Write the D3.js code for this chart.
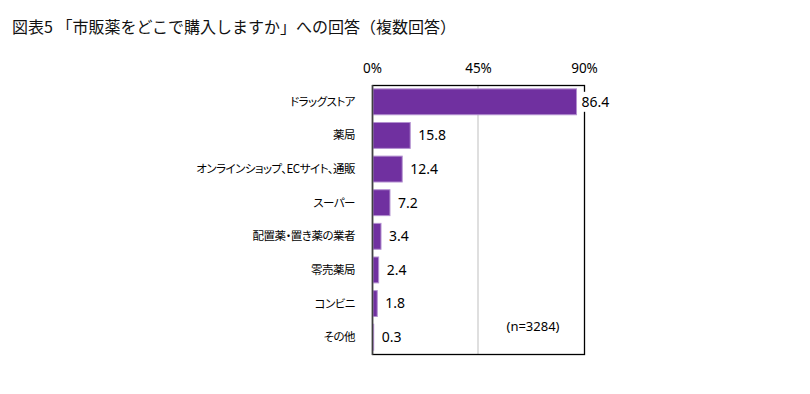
<!DOCTYPE html>
<html>
<head>
<meta charset="utf-8">
<script src="https://cdn.jsdelivr.net/npm/d3@7"></script>
<style>
  body { margin: 0; background: #fff; }
  svg text { font-family: "Noto Sans CJK JP", "Noto Sans", sans-serif; }
  .cat { font-feature-settings: "palt"; }
</style>
</head>
<body>
<div id="chart"></div>
<script>
var titleText = "図表5 「市販薬をどこで購入しますか」への回答（複数回答）";
var categories = ["ドラッグストア", "薬局", "オンラインショップ、ECサイト、通販", "スーパー",
                  "配置薬・置き薬の業者", "零売薬局", "コンビニ", "その他"];
var values = [86.4, 15.8, 12.4, 7.2, 3.4, 2.4, 1.8, 0.3];
var tickValues = [0, 45, 90];
var noteText = "(n=3284)";

var width = 810, height = 394;
var plot = {left: 372, right: 584, top: 85, bottom: 354};

var svg = d3.select("#chart")
    .append("svg")
    .attr("width", width)
    .attr("height", height);

svg.append("text")
    .attr("x", 12)
    .attr("y", 33)
    .style("font-size", "16px")
    .style("fill", "#111")
    .text(titleText);

var x = d3.scaleLinear().domain([0, 90]).range([plot.left, plot.right]);
var y = d3.scaleBand().domain(categories).range([plot.top, plot.bottom]).paddingInner(0.23).paddingOuter(0.115);

// gridline at 45%
svg.append("line")
    .attr("x1", x(45)).attr("x2", x(45))
    .attr("y1", plot.top).attr("y2", plot.bottom)
    .style("stroke", "#bfbfbf")
    .style("stroke-width", 1);

// top axis labels
var xAxis = d3.axisTop(x).tickValues(tickValues).tickSize(0).tickPadding(0)
    .tickFormat(function(d) { return d + "%"; });
var gx = svg.append("g")
    .attr("transform", "translate(0," + 73 + ")")
    .call(xAxis);
gx.select(".domain").remove();
gx.selectAll("text")
    .style("font-family", "'Noto Sans', sans-serif")
    .style("font-size", "13.5px")
    .style("fill", "#000");

// frame
svg.append("rect")
    .attr("x", plot.left + 0.5).attr("y", plot.top + 0.5)
    .attr("width", plot.right - plot.left).attr("height", plot.bottom - plot.top)
    .style("fill", "none")
    .style("stroke", "#000")
    .style("stroke-width", 1.3);

// bars
svg.selectAll(".bar")
    .data(values)
    .enter().append("rect")
    .attr("class", "bar")
    .attr("x", x(0) + 1)
    .attr("y", function(d, i) { return y(categories[i]); })
    .attr("width", function(d) { return x(d) - x(0); })
    .attr("height", y.bandwidth())
    .style("fill", "#7030a0")
    .style("stroke", "#b390d0")
    .style("stroke-width", 1);

// left axis line over bars
svg.append("line")
    .attr("x1", plot.left + 0.5).attr("x2", plot.left + 0.5)
    .attr("y1", plot.top).attr("y2", plot.bottom + 1)
    .style("stroke", "#404040")
    .style("stroke-width", 1.5);

// category labels
svg.selectAll(".cat")
    .data(categories)
    .enter().append("text")
    .attr("class", "cat")
    .attr("x", 355)
    .attr("y", function(d) { return y(d) + y.bandwidth() / 2; })
    .attr("dy", "0.35em")
    .attr("text-anchor", "end")
    .style("font-size", "11.5px")
    .style("letter-spacing", "-0.5px")
    .style("fill", "#000")
    .text(function(d) { return d; });

// value labels
var vals = svg.selectAll(".val")
    .data(values)
    .enter().append("g")
    .attr("class", "val")
    .attr("transform", function(d, i) {
        var off = d > 80 ? 6 : 9;
        return "translate(" + (x(d) + off) + "," + (y(categories[i]) + y.bandwidth() / 2) + ")";
    });
vals.append("rect")
    .attr("x", -2).attr("y", -10)
    .attr("width", 32).attr("height", 20)
    .style("fill", "#fff");
vals.append("text")
    .attr("dy", "0.35em")
    .style("font-family", "'Noto Sans', sans-serif")
    .style("font-size", "14px")
    .style("fill", "#000")
    .text(function(d) { return d.toFixed(1); });

svg.append("text")
    .attr("x", 533)
    .attr("y", 331)
    .attr("text-anchor", "middle")
    .style("font-family", "'Noto Sans', sans-serif")
    .style("font-size", "13px")
    .style("fill", "#000")
    .text(noteText);
</script>
</body>
</html>
